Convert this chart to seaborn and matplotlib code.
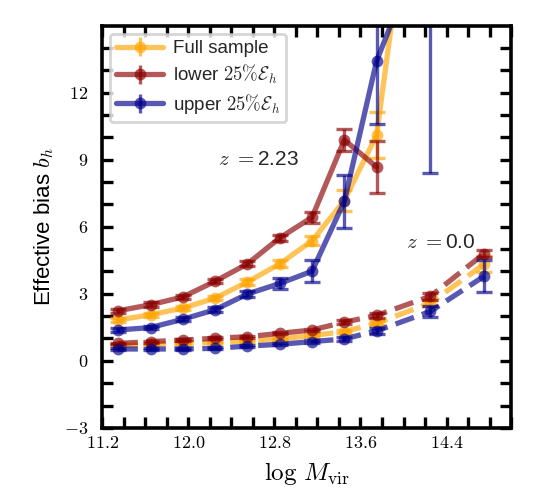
import numpy as np
import pandas as pd
import seaborn as sns
import matplotlib.pyplot as plt
from matplotlib.ticker import MultipleLocator, FuncFormatter

# halo mass bins
x_hi = [11.35, 11.65, 11.95, 12.25, 12.55, 12.85, 13.15, 13.45, 13.75, 14.25]
x_lo = [11.35, 11.65, 11.95, 12.25, 12.55, 12.85, 13.15, 13.45, 13.75, 14.25, 14.75]

# z = 2.23
full_hi = [1.83, 2.06, 2.36, 2.81, 3.53, 4.34, 5.37, 7.17, 10.1, 28.0]
full_hi_err = [0.08, 0.08, 0.08, 0.1, 0.12, 0.15, 0.2, 0.45, 1.05, 0.0]
lower_hi = [2.24, 2.51, 2.86, 3.56, 4.34, 5.5, 6.42, 9.88, 8.67, np.nan]
lower_hi_err = [0.1, 0.1, 0.1, 0.1, 0.12, 0.15, 0.25, 0.5, 1.15, np.nan]
upper_hi = [1.38, 1.49, 1.86, 2.29, 2.99, 3.46, 4.01, 7.13, 13.41, 19.5]
upper_hi_err = [0.08, 0.08, 0.1, 0.1, 0.15, 0.25, 0.5, 1.2, 2.8, 11.1]

# z = 0.0
full_lo = [0.68, 0.74, 0.78, 0.83, 0.89, 0.98, 1.13, 1.31, 1.68, 2.59, 4.32]
full_lo_err = [0.03, 0.03, 0.03, 0.03, 0.04, 0.04, 0.05, 0.06, 0.08, 0.15, 0.35]
lower_lo = [0.78, 0.86, 0.93, 1.01, 1.08, 1.23, 1.38, 1.73, 2.03, 2.89, 4.8]
lower_lo_err = [0.04, 0.04, 0.04, 0.04, 0.05, 0.05, 0.06, 0.08, 0.1, 0.15, 0.15]
upper_lo = [0.53, 0.53, 0.53, 0.56, 0.66, 0.74, 0.86, 0.98, 1.34, 2.21, 3.79]
upper_lo_err = [0.04, 0.04, 0.04, 0.04, 0.05, 0.05, 0.06, 0.08, 0.12, 0.25, 0.7]

labels = ["Full sample", r"lower $25\%\mathcal{E}_h$", r"upper $25\%\mathcal{E}_h$"]
colors = ["orange", "darkred", "darkblue"]

sns.set_style("ticks")
plt.rcParams["font.family"] = ["Liberation Sans", "DejaVu Sans"]
plt.rcParams["mathtext.fontset"] = "cm"

fig, ax = plt.subplots(figsize=(5.38, 4.93), dpi=100)
fig.subplots_adjust(left=0.19, right=0.95, top=0.947, bottom=0.132)

series = [
    (x_hi, [full_hi, lower_hi, upper_hi], [full_hi_err, lower_hi_err, upper_hi_err], "-"),
    (x_lo, [full_lo, lower_lo, upper_lo], [full_lo_err, lower_lo_err, upper_lo_err], "--"),
]
alpha = 0.65
for xs, ys, es, ls in series:
    for y, e, c in zip(ys, es, colors):
        df = pd.DataFrame({"x": xs, "y": y}).dropna()
        sns.lineplot(data=df, x="x", y="y", ax=ax, color=c, alpha=alpha, lw=3.8,
                     linestyle=ls, marker="o", markersize=8.5, markeredgewidth=0)
        ax.errorbar(xs, y, yerr=e, fmt="none", ecolor=c, alpha=alpha,
                    elinewidth=2.4, capsize=5.5, capthick=2.4)

# legend proxies
for c, lab in zip(colors, labels):
    ax.errorbar([np.nan], [np.nan], yerr=[np.nan], fmt="-o", color=c, alpha=alpha,
                lw=3.8, ms=8.5, mew=0, elinewidth=2.4, capsize=5.5, capthick=2.4, label=lab)
leg = ax.legend(loc="upper left", fontsize=13.5, frameon=True, fancybox=True,
                borderaxespad=0.4, handlelength=2.5, handletextpad=0.5,
                labelspacing=0.3, borderpad=0.35)
leg.get_frame().set_edgecolor("#cccccc")
leg.get_frame().set_linewidth(2)

ax.text(12.28, 9.0, r"$z\ =$" + "2.23", fontsize=15, va="center")
ax.text(14.02, 5.3, r"$z\ =$" + "0.0", fontsize=15, va="center")

ax.set_xlim(11.2, 15.0)
ax.set_ylim(-3, 14.97)
ax.xaxis.set_major_locator(MultipleLocator(0.8))
ax.xaxis.set_minor_locator(MultipleLocator(0.2))
ax.yaxis.set_major_locator(MultipleLocator(3))
ax.yaxis.set_minor_locator(MultipleLocator(1))
ax.xaxis.set_major_formatter(FuncFormatter(lambda v, p: f"${v:.1f}$"))
ax.yaxis.set_major_formatter(FuncFormatter(lambda v, p: f"${v:g}$"))
ax.tick_params(which="both", direction="in", top=True, right=True,
               length=8, width=2.4, labelsize=13, color="black", labelcolor="black")
ax.tick_params(axis="x", pad=5)
ax.tick_params(axis="y", pad=10)
for s in ax.spines.values():
    s.set_linewidth(2.6)
    s.set_color("black")

ax.set_xlabel(r"$\log\,M_{\rm vir}$", fontsize=18, labelpad=6, color="black")
ax.set_ylabel(r"Effective bias $b_h$", fontsize=16, labelpad=6, color="black")

fig.savefig("out.png", dpi=100)
